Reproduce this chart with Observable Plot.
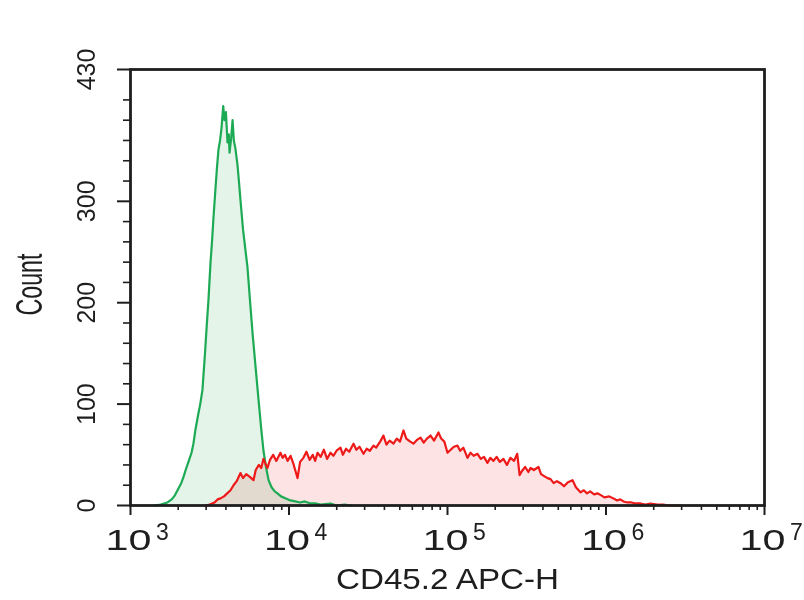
<!DOCTYPE html>
<html>
<head>
<meta charset="utf-8">
<script src="https://cdn.jsdelivr.net/npm/d3@7"></script>
<script src="https://cdn.jsdelivr.net/npm/@observablehq/plot@0.6"></script>
<style>
  html, body { margin: 0; padding: 0; background: #fff; }
  svg { font-family: "Liberation Sans", Arial, sans-serif; }
</style>
</head>
<body>
<div id="chart"></div>
<script>
// ---- Data ----
const xMajor = [1e3, 1e4, 1e5, 1e6, 1e7];
const xExponents = ["3", "4", "5", "6", "7"];
const xMinorMultipliers = [2, 3, 4, 5, 6, 7, 8, 9];
const yMajor = [0, 100, 200, 300, 430];
const yMinor = [20, 40, 60, 80, 120, 140, 160, 180, 220, 240, 260, 280, 320, 340, 360, 380, 400];
const xTitle = "CD45.2 APC-H";
const yTitle = "Count";

// green histogram: log10(intensity), count
const greenLog = [3.15,3.19,3.233,3.26,3.28,3.30,3.32,3.334,3.35,3.37,3.385,3.397,3.41,3.425,3.44,3.454,3.47,3.48,3.492,3.505,3.515,3.524,3.535,3.545,3.555,3.565,3.574,3.585,3.593,3.602,3.612,3.62,3.625,3.635,3.644,3.652,3.662,3.675,3.685,3.694,3.71,3.725,3.738,3.755,3.77,3.79,3.808,3.825,3.839,3.855,3.871,3.89,3.91,3.927,3.95,3.98,4.009,4.04,4.07,4.1,4.136,4.17,4.2,4.262,4.3,4.35,4.39];
const greenCount = [0,1,3,6,10,16,22,28,36,45,52,61,75,88,100,114,150,175,203,240,262,285,310,332,351,360,372,394,380,388,358,366,348,362,380,360,352,336,318,301,272,252,235,200,170,135,104,75,54,38,25,18,14,12,9,7,5,4,3,4,2,2,1,2,0,1,0];

// red histogram: log10(intensity), count
const redLog = [3.47,3.50,3.53,3.549,3.568,3.59,3.61,3.631,3.65,3.67,3.694,3.71,3.73,3.755,3.776,3.79,3.81,3.825,3.839,3.852,3.864,3.88,3.90,3.92,3.946,3.96,3.975,3.991,4.01,4.03,4.054,4.07,4.091,4.11,4.13,4.15,4.165,4.18,4.20,4.22,4.24,4.262,4.28,4.30,4.325,4.34,4.36,4.38,4.407,4.425,4.445,4.47,4.49,4.51,4.533,4.55,4.575,4.596,4.615,4.635,4.659,4.68,4.70,4.722,4.74,4.765,4.785,4.81,4.83,4.85,4.87,4.893,4.915,4.943,4.96,4.98,5.00,5.02,5.04,5.063,5.08,5.10,5.126,5.145,5.165,5.189,5.21,5.23,5.252,5.27,5.29,5.31,5.33,5.353,5.375,5.397,5.42,5.44,5.455,5.47,5.49,5.51,5.524,5.545,5.574,5.59,5.61,5.631,5.65,5.67,5.69,5.713,5.735,5.76,5.789,5.81,5.839,5.86,5.88,5.90,5.925,5.946,5.97,5.99,6.02,6.047,6.07,6.09,6.11,6.136,6.16,6.19,6.218,6.25,6.28,6.325,6.36,6.40,6.47];
const redCount = [0,1,3,6,7,9,12,15,20,24,32,27,31,28,25,35,40,37,46,41,37,45,50,44,52,47,50,44,49,40,27,43,47,53,45,50,44,52,48,55,46,52,49,54,57,50,56,53,61,55,58,51,56,54,59,57,63,69,60,64,61,66,63,74,66,63,61,65,67,62,66,69,64,72,66,63,52,55,58,59,54,57,47,52,49,51,46,48,42,47,44,48,43,46,40,47,44,51,30,34,38,33,37,35,38,31,29,27,26,22,24,22,19,23,25,18,13,15,12,14,11,12,10,8,9,7,5,6,4,3,3,2,2,1,2,1,1,0,0];

const green = greenLog.map((l, i) => ({x: Math.pow(10, l), y: greenCount[i]}));
const red = redLog.map((l, i) => ({x: Math.pow(10, l), y: redCount[i]}));
const xMinor = xMajor.slice(0, -1).flatMap(d => xMinorMultipliers.map(m => m * d));

const ink = "#1e1e1e";
const txt = {fill: ink, textAnchor: "middle", lineAnchor: "middle"};

const chart = Plot.plot({
  width: 804,
  height: 600,
  marginLeft: 130,
  marginRight: 40,
  marginTop: 69,
  marginBottom: 95,
  style: {fontFamily: "Liberation Sans, Arial, sans-serif", color: ink, background: "#fff"},
  x: {type: "log", domain: [1e3, 1e7], axis: null},
  y: {domain: [0, 430], axis: null},
  marks: [
    Plot.areaY(green, {x: "x", y: "y", fill: "#e4f4e9", mixBlendMode: "multiply"}),
    Plot.areaY(red, {x: "x", y: "y", fill: "#fde3e3", mixBlendMode: "multiply"}),
    Plot.lineY(green, {x: "x", y: "y", stroke: "#1daa55", strokeWidth: 2.2}),
    Plot.lineY(red, {x: "x", y: "y", stroke: "#ee1a1a", strokeWidth: 2.2}),
    Plot.frame({stroke: ink, strokeWidth: 2.8}),
    Plot.axisY(yMajor, {tickSize: 13, tickFormat: () => "", strokeWidth: 2, stroke: ink, label: null}),
    Plot.axisY(yMinor, {tickSize: 7, tickFormat: () => "", strokeWidth: 1.6, stroke: ink, label: null}),
    Plot.axisX(xMajor, {tickSize: 10, tickFormat: () => "", strokeWidth: 2, stroke: ink, label: null}),
    Plot.axisX(xMinor, {tickSize: 5, tickFormat: () => "", strokeWidth: 1.6, stroke: ink, label: null}),
    Plot.text(yMajor, {...txt, y: d => d, text: d => String(d), frameAnchor: "left", dx: -44, rotate: -90, fontSize: 25, className: "ylab"}),
    Plot.text(xMajor, {...txt, x: d => d, text: () => "10", frameAnchor: "bottom", dx: -2, dy: 35, fontSize: 30, className: "xlab"}),
    Plot.text(xMajor, {...txt, x: d => d, text: (d, i) => xExponents[i], frameAnchor: "bottom", dx: 32, dy: 27, fontSize: 23, className: "xexp"}),
    Plot.text([xTitle], {...txt, text: d => d, frameAnchor: "bottom", dy: 74, fontSize: 30, className: "xtitle"}),
    Plot.text([yTitle], {...txt, text: d => d, frameAnchor: "left", dx: -100, dy: -3, rotate: -90, fontSize: 36, className: "ytitle"})
  ]
});

// stretch/condense text like the (resampled) reference
function fit(cls, len) {
  chart.querySelectorAll(`.${cls} text, text.${cls}`).forEach(t => {
    t.setAttribute("textLength", len);
    t.setAttribute("lengthAdjust", "spacingAndGlyphs");
  });
}
fit("xlab", 46);
fit("xtitle", 223);
fit("ytitle", 62);

document.getElementById("chart").appendChild(chart);
</script>
</body>
</html>
